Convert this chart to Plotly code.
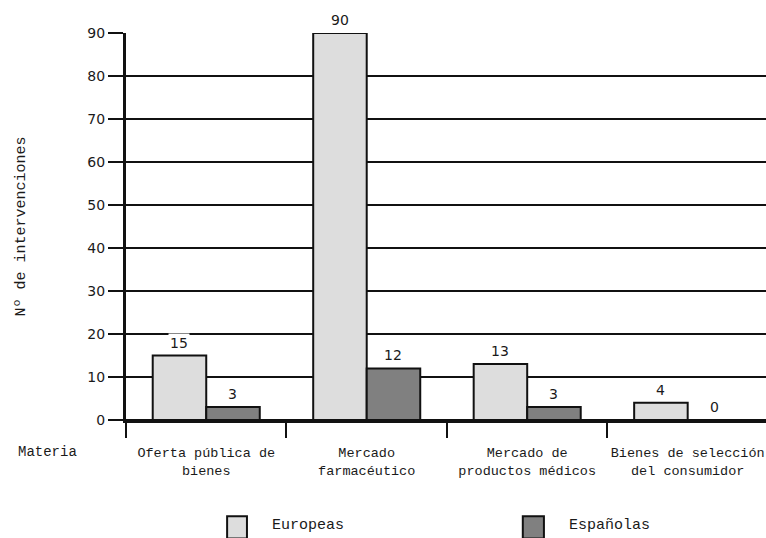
import plotly.graph_objects as go

# Data
categorias = [
    "Oferta pública de<br>bienes",
    "Mercado<br>farmacéutico",
    "Mercado de<br>productos médicos",
    "Bienes de selección<br>del consumidor",
]
europeas = [15, 90, 13, 4]
espanolas = [3, 12, 3, 0]
series_names = ["Europeas", "Españolas"]
series_colors = ["#dddddd", "#808080"]
y_ticks = [0, 10, 20, 30, 40, 50, 60, 70, 80, 90]

MONO = "Liberation Mono"
SANS = "DejaVu Sans"
INK = "#1a1a1a"

fig = go.Figure()
for name, vals, col in zip(series_names, [europeas, espanolas], series_colors):
    fig.add_trace(go.Bar(
        x=categorias, y=vals, name=name,
        marker=dict(color=col, line=dict(color="#111111", width=2)),
        showlegend=False,
    ))

# value labels above each bar
offsets = [-1 / 6, 1 / 6]
annotations = []
for off, vals in zip(offsets, [europeas, espanolas]):
    for i, v in enumerate(vals):
        annotations.append(dict(
            x=i + off, y=v, xref="x", yref="y", text=str(v),
            showarrow=False, yanchor="bottom", yshift=3,
            font=dict(family=SANS, size=14, color=INK),
            bgcolor="white",
        ))

# row label of the category axis
annotations.append(dict(
    x=-0.123, y=-0.082, xref="paper", yref="paper", text="Materia",
    showarrow=False, xanchor="center", yanchor="middle",
    font=dict(family=MONO, size=14, color=INK),
))

# legend drawn as boxes with labels
shapes = []
legend_items = [(0.158, 0.189, 0.225), (0.620, 0.653, 0.689)]
for (x0, x1, xt), name, col in zip(legend_items, series_names, series_colors):
    shapes.append(dict(
        type="rect", xref="paper", yref="paper",
        x0=x0, x1=x1, y0=-0.306, y1=-0.249,
        fillcolor=col, line=dict(color="#111111", width=2),
    ))
    annotations.append(dict(
        x=xt, y=-0.272, xref="paper", yref="paper", text=name,
        showarrow=False, xanchor="left", yanchor="middle",
        font=dict(family=MONO, size=15, color=INK),
    ))

fig.update_layout(
    width=766, height=538,
    margin=dict(l=126, r=0, t=33, b=118, autoexpand=False),
    paper_bgcolor="white", plot_bgcolor="white",
    barmode="group", bargap=0.333, bargroupgap=0,
    annotations=annotations, shapes=shapes,
    showlegend=False,
)
fig.update_xaxes(
    type="category", range=[-0.5, 3.488], automargin=False,
    tickangle=0, ticklabelstandoff=18,
    showline=True, linecolor="#111111", linewidth=3,
    ticks="outside", tickson="boundaries", ticklen=15, tickwidth=2,
    tickcolor="#111111", showgrid=False,
    tickfont=dict(family=MONO, size=13.5, color=INK),
)
fig.update_yaxes(
    range=[0, 90], tickvals=y_ticks, automargin=False,
    showline=True, linecolor="#111111", linewidth=3,
    showgrid=True, gridcolor="#111111", gridwidth=2,
    zeroline=True, zerolinecolor="#111111", zerolinewidth=3,
    ticks="outside", ticklen=15, tickwidth=2, tickcolor="#111111",
    tickfont=dict(family=SANS, size=14, color=INK),
    title=dict(text="Nº de intervenciones", standoff=59,
               font=dict(family=MONO, size=15, color=INK)),
)

fig.write_html("out.html")
